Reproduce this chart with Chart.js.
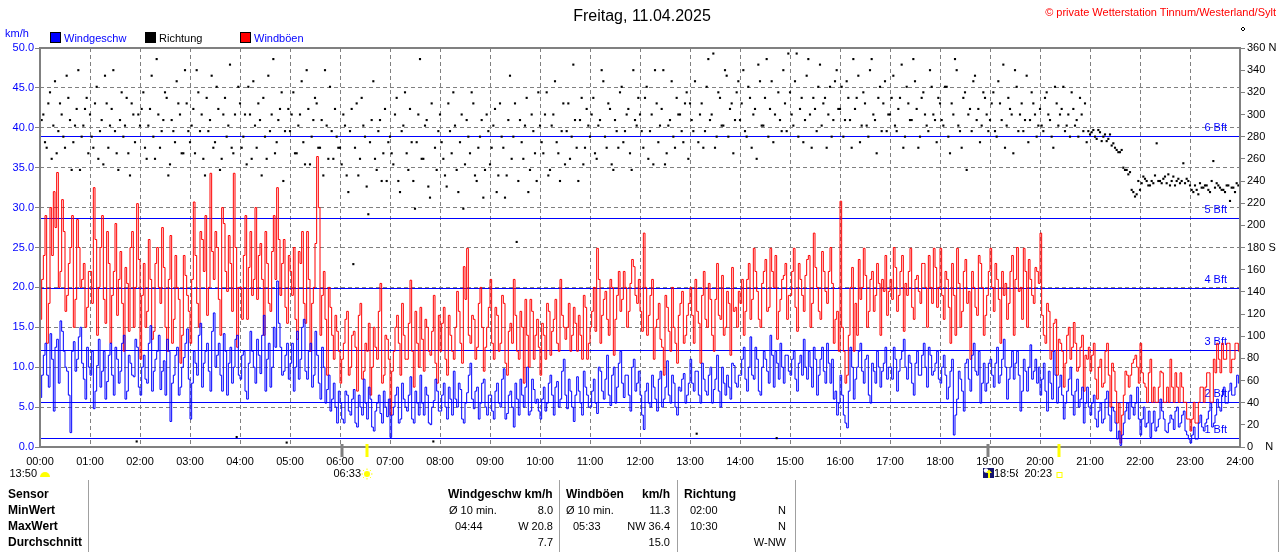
<!DOCTYPE html>
<html lang="de"><head><meta charset="utf-8"><title>Wind 11.04.2025</title>
<script src="https://cdn.jsdelivr.net/npm/chart.js@4.4.1/dist/chart.umd.min.js"></script>
<style>
html,body{margin:0;padding:0;background:#fff;}
#stage{position:relative;width:1280px;height:552px;overflow:hidden;font-family:"Liberation Sans",Arial,sans-serif;background:#fff;}
#c{position:absolute;left:0;top:0;}
.lbl{position:absolute;white-space:nowrap;line-height:1;}
.vl{position:absolute;width:1px;background:#a0a0a0;}
.sq{position:absolute;width:9px;height:9px;border:1px solid #000;}
</style></head><body><div id="stage"><canvas id="c" width="1280" height="552"></canvas></div>
<script>
// ---------------- DATA ----------------
const STEP_MIN = 4; // series A read at minute 0,4,8,... ; series B at minute 2,6,10,...
const hourLabels = ['00:00','01:00','02:00','03:00','04:00','05:00','06:00','07:00','08:00','09:00','10:00','11:00','12:00',
  '13:00','14:00','15:00','16:00','17:00','18:00','19:00','20:00','21:00','22:00','23:00','24:00'];
const dirTickLabels = {0:'0    N', 180:'180 S', 360:'360 N'};
const bftLimits = [1.08, 5.76, 12.24, 19.8, 28.8, 38.88];
const bftNames = ['1 Bft','2 Bft','3 Bft','4 Bft','5 Bft','6 Bft'];

const windSpeedA = [
 6.2,11.5,9.0,14.2,4.5,13.5,15.8,12.0,9.5,1.8,13.2,11.0,15.0,8.5,12.5,
 9.0,4.8,10.2,7.5,12.0,8.2,13.0,6.5,11.0,9.5,14.0,7.0,10.5,8.8,12.5,
 6.5,11.5,8.0,15.2,9.5,12.0,7.2,10.8,13.5,3.2,9.0,12.5,7.5,11.2,14.8,
 3.5,12.0,9.0,15.5,10.5,13.0,7.0,16.8,11.5,9.0,14.2,6.5,12.5,10.0,14.0,
 8.5,12.0,6.0,14.5,10.0,13.5,9.2,16.5,11.0,7.5,15.0,20.8,12.5,9.5,13.0,
 10.5,7.0,14.5,11.0,16.0,8.5,13.0,9.0,11.5,6.0,10.0,7.2,4.5,8.0,3.0,
 5.5,3.0,6.5,4.0,7.2,2.5,5.0,8.5,3.5,6.0,2.0,5.5,4.2,7.0,3.8,
 1.2,5.0,7.5,3.5,6.0,4.5,8.8,3.0,5.5,9.0,4.0,6.5,2.8,5.8,7.0,
 4.5,8.0,3.5,6.0,9.5,5.0,7.2,3.0,6.8,10.5,4.8,7.5,5.5,8.5,4.0,
 6.5,3.5,8.0,5.0,9.8,4.2,7.0,2.5,6.0,8.5,5.0,10.0,4.5,7.2,6.0,
 3.5,7.5,5.5,9.0,4.0,8.2,6.0,11.0,4.8,7.0,3.2,8.8,5.5,9.5,6.5,
 5.0,8.5,4.2,9.5,6.0,11.5,5.2,10.0,7.5,12.0,6.2,9.0,4.5,11.0,8.0,
 6.5,2.2,8.0,5.0,7.5,4.5,9.5,6.0,10.8,5.5,8.0,4.0,7.0,9.2,6.5,
 11.0,7.0,9.5,5.5,8.5,6.5,10.0,7.2,11.5,5.0,8.0,9.0,6.0,10.2,7.5,
 9.0,12.5,7.0,13.8,8.5,11.0,6.5,12.0,9.5,14.0,7.5,10.5,13.0,8.0,11.5,
 9.0,12.0,7.0,11.5,13.5,8.5,10.0,12.5,6.5,11.0,9.5,13.0,8.0,6.0,4.0,
 9.0,4.0,2.4,12.5,6.0,10.0,13.0,8.0,11.5,5.5,9.5,12.0,7.5,10.5,8.5,
 10.0,12.5,7.0,11.0,13.5,8.5,10.5,6.5,12.0,9.0,13.0,7.5,11.5,9.5,12.0,
 8.0,11.5,6.0,9.5,1.5,6.0,8.5,4.5,11.0,7.0,13.0,9.0,5.5,10.5,8.0,
 11.0,7.5,12.5,9.0,13.5,6.0,10.0,8.5,12.0,4.5,11.0,7.0,12.8,9.5,8.0,
 6.5,10.5,4.5,8.0,12.0,5.5,9.0,3.5,7.0,10.0,4.0,8.5,6.0,3.0,7.5,
 4.0,6.5,2.5,5.5,3.5,7.0,2.0,4.5,1.0,0.2,3.0,5.5,6.5,4.0,7.5,
 1.5,5.0,3.0,1.2,4.5,2.5,6.0,3.5,1.8,4.0,2.2,5.0,3.0,4.5,1.5,
 0.5,2.5,1.0,4.0,2.0,3.5,5.5,3.0,6.0,4.5,7.5,5.5,8.0,6.5,9.0,
 8.5];
const windSpeedB = [
 9.0,13.0,7.5,11.0,12.5,8.0,14.5,10.0,6.5,12.0,9.5,13.8,10.5,6.0,10.0,
 12.0,7.0,13.5,9.5,6.0,11.5,9.0,12.5,8.0,13.0,6.0,11.5,9.0,13.5,7.5,
 10.0,8.5,13.0,7.0,11.0,14.0,9.5,6.5,12.0,8.0,11.5,6.5,10.0,13.0,8.5,
 8.0,10.5,14.0,7.5,12.0,9.5,14.5,10.0,13.0,7.0,12.0,10.5,8.0,13.5,9.0,
 11.5,7.0,10.5,12.0,8.0,11.5,14.0,7.0,13.0,10.0,12.5,15.5,9.0,11.5,8.5,
 13.0,10.0,8.5,15.0,9.5,12.0,7.5,14.5,8.0,12.5,5.5,9.0,6.0,5.0,7.0,
 3.5,7.0,4.5,6.0,3.0,6.5,4.0,5.5,7.5,2.5,4.5,6.5,3.0,5.0,6.0,
 4.0,6.5,3.0,8.0,5.0,6.5,3.5,7.0,4.0,5.5,7.5,3.0,5.0,8.5,4.5,
 6.5,5.0,7.5,4.0,6.0,8.0,3.5,5.5,9.0,6.0,7.0,3.5,8.0,5.0,6.5,
 4.5,7.0,5.5,8.5,3.5,6.5,5.0,8.0,4.0,6.5,7.5,4.0,8.5,5.5,4.5,
 6.0,4.5,8.0,6.5,7.5,5.0,9.5,6.5,8.5,5.0,6.5,7.0,4.0,7.5,5.0,
 7.0,5.5,10.0,7.0,8.5,6.5,9.0,5.5,10.5,8.0,9.0,6.5,10.0,7.0,9.5,
 4.0,7.0,5.5,9.0,6.0,8.5,5.0,7.5,6.5,9.0,5.0,7.5,8.5,5.5,8.0,
 8.0,9.5,6.5,10.5,7.0,9.0,5.5,8.5,7.0,10.0,6.5,7.5,10.5,8.0,9.0,
 11.0,8.5,10.0,9.0,12.5,7.0,10.0,11.0,8.0,11.5,12.0,8.5,10.0,11.5,9.5,
 11.0,8.5,10.5,9.0,10.0,12.0,7.5,11.0,9.0,12.5,8.0,10.5,11.0,7.0,5.5,
 6.5,3.0,7.0,10.0,8.5,12.0,9.5,11.0,6.5,10.5,8.0,10.0,9.5,12.5,10.0,
 8.5,11.0,9.5,12.0,10.0,11.5,8.0,10.5,9.0,11.5,10.0,12.5,9.0,10.5,8.5,
 10.0,9.0,7.5,11.0,4.0,9.5,7.0,10.5,8.5,11.5,9.5,12.0,8.0,7.0,10.5,
 9.0,10.5,8.0,11.0,10.0,8.5,12.0,10.5,9.0,7.0,9.5,10.0,8.5,11.0,10.0,
 8.5,7.0,9.5,6.0,9.0,7.5,6.5,5.5,8.5,6.5,7.0,5.0,7.5,5.5,5.0,
 5.5,3.5,4.5,3.0,6.0,4.0,5.0,3.0,2.0,1.5,4.5,3.5,5.0,5.5,3.5,
 3.5,2.5,4.5,3.0,2.0,3.5,4.5,2.0,3.0,3.5,4.5,2.5,4.0,2.0,1.0,
 1.5,1.0,3.0,2.5,3.0,4.5,2.5,4.0,5.0,6.5,5.5,7.0,6.5,7.5,8.0];

const windGustA = [
 16.0,24.0,13.0,30.0,32.0,34.4,22.0,27.0,19.0,25.0,15.0,28.5,20.0,23.0,17.5,
 22.0,32.5,14.0,25.0,18.5,27.0,13.0,22.0,16.5,24.5,12.0,20.5,25.0,15.0,30.5,
 11.0,23.0,17.0,21.0,14.5,25.0,18.0,22.5,12.0,26.5,16.0,20.0,10.5,24.0,19.0,
 13.0,30.7,18.0,27.0,22.0,16.5,34.3,21.0,25.0,14.0,28.0,19.5,23.0,34.3,12.5,
 20.0,24.0,16.0,27.0,21.0,18.5,25.5,14.0,23.0,17.0,29.0,32.5,19.0,26.0,15.5,
 22.0,25.0,13.5,23.0,18.0,27.0,12.0,20.0,36.4,14.0,22.0,9.0,17.5,11.0,14.5,
 8.0,13.0,17.0,10.0,14.5,7.0,18.0,9.5,12.0,6.5,15.0,11.0,20.5,9.0,13.5,
 4.0,12.0,16.5,9.0,14.0,11.0,20.9,7.5,13.0,17.5,9.5,15.0,11.5,19.0,8.0,
 12.0,17.5,9.0,14.0,11.0,19.5,13.0,22.6,24.9,13.0,16.0,12.5,20.0,9.5,15.0,
 21.0,11.0,16.5,13.0,18.0,9.0,15.5,21.0,12.0,17.0,8.0,14.0,18.5,11.0,16.0,
 9.0,14.0,18.0,11.5,16.0,13.0,21.0,15.0,15.0,12.0,17.5,12.0,14.0,19.0,11.0,
 15.0,20.0,24.9,13.0,18.5,16.0,21.0,11.5,19.0,17.0,22.0,15.0,20.5,22.6,18.0,
 17.0,26.8,14.0,19.0,11.0,16.0,13.5,9.0,17.5,12.0,15.0,10.5,18.0,13.0,16.5,
 20.0,13.0,17.0,10.5,22.0,15.0,18.5,12.0,23.0,16.0,14.0,19.5,11.5,17.0,15.0,
 18.0,14.0,21.0,16.0,24.9,19.5,15.0,22.0,17.0,24.9,20.0,13.5,18.5,21.5,16.0,
 19.0,24.9,14.5,21.0,17.0,23.5,15.0,26.8,20.0,16.0,22.0,18.0,25.0,13.0,17.0,
 30.8,12.0,9.0,20.0,12.0,14.0,18.5,24.9,15.0,21.0,17.0,23.0,14.0,19.5,16.5,
 21.0,25.0,17.0,22.0,14.5,19.0,24.9,16.0,21.5,18.0,23.0,15.0,20.0,24.9,17.5,
 24.9,16.0,21.0,13.0,19.0,24.9,15.0,22.0,18.0,11.0,20.0,16.5,23.0,14.0,19.0,
 24.9,17.0,21.0,13.0,19.0,16.0,22.0,14.0,25.0,20.0,24.9,15.0,21.0,18.0,22.0,
 26.8,14.0,18.0,11.0,15.5,9.0,13.0,7.5,14.0,11.0,15.6,9.5,12.5,7.0,11.0,
 9.5,13.0,6.0,11.0,8.0,13.0,5.0,9.5,3.0,0.5,6.5,9.0,9.0,11.0,10.0,
 13.0,8.0,5.6,11.0,7.5,5.6,9.5,5.6,7.5,11.0,5.6,7.5,9.3,5.6,3.5,
 2.0,5.6,3.0,7.5,5.6,9.3,5.6,11.0,13.0,9.3,11.0,13.0,9.3,11.0,13.0,
 12.0];
const windGustB = [
 21.0,29.0,18.0,24.0,27.5,20.0,31.0,17.0,23.0,29.0,18.5,25.0,21.0,15.0,22.0,
 18.0,26.0,20.0,29.0,15.5,23.0,19.0,28.0,21.0,18.0,22.5,14.5,27.0,20.0,23.5,
 19.0,15.0,26.0,13.5,23.0,20.0,27.5,15.0,21.0,13.0,24.0,18.5,14.0,21.5,17.0,
 21.0,24.0,15.0,26.0,29.0,20.0,24.5,27.0,18.5,30.0,22.0,26.5,17.0,25.0,20.0,
 16.0,29.0,22.5,19.0,30.0,24.0,21.0,27.0,18.0,24.5,21.0,26.0,23.0,17.5,24.0,
 19.0,16.0,24.5,27.0,15.5,21.0,18.0,25.5,30.0,19.0,16.0,20.0,14.0,16.5,12.0,
 11.0,16.0,9.0,14.0,12.5,16.5,8.5,13.0,15.5,10.0,12.5,17.0,8.0,14.0,11.0,
 9.5,15.0,13.0,18.0,11.0,15.5,12.0,17.0,10.0,13.5,16.0,12.0,14.5,10.5,16.5,
 15.5,11.0,16.5,12.0,15.0,17.0,10.5,18.5,14.0,16.5,11.0,18.0,15.0,12.5,17.5,
 13.0,17.5,12.0,19.0,10.5,14.5,13.0,16.5,11.0,15.0,18.5,10.0,17.0,14.0,12.5,
 15.5,11.0,17.0,14.5,18.5,12.0,16.5,13.5,18.0,14.0,15.5,16.5,11.0,17.5,13.0,
 17.0,14.5,21.0,16.5,19.5,14.0,20.0,16.0,22.0,18.5,20.0,17.0,23.5,19.0,21.0,
 14.5,20.0,16.5,21.0,15.0,18.0,12.5,19.0,14.5,20.0,13.0,16.5,19.5,14.0,18.0,
 16.5,21.0,15.5,19.0,16.0,20.5,14.0,18.5,16.5,21.5,15.0,18.0,22.5,17.5,19.5,
 21.0,17.0,23.0,18.5,22.0,16.0,20.5,23.5,17.5,22.0,24.0,17.0,21.0,23.0,19.0,
 22.0,17.5,23.0,19.0,21.5,24.0,18.0,22.5,17.0,24.5,19.5,22.0,20.5,16.0,12.0,
 15.0,8.0,14.0,22.5,18.0,23.5,20.0,21.5,17.0,22.0,19.0,20.5,21.0,24.0,19.5,
 18.5,22.5,19.0,24.0,20.5,22.0,17.5,21.0,19.5,23.0,20.0,24.0,18.0,22.5,20.0,
 19.0,22.0,17.5,23.0,14.0,20.5,17.0,23.5,19.5,22.0,17.5,24.0,20.0,16.5,22.0,
 20.0,23.0,18.5,22.0,20.5,18.0,24.0,21.0,19.5,16.0,22.0,23.5,19.0,22.5,20.5,
 16.5,13.0,17.0,12.0,16.0,13.5,12.0,10.5,15.0,12.5,13.0,10.0,14.0,11.5,12.5,
 11.5,8.5,10.0,7.5,12.0,9.0,10.5,7.0,5.5,4.0,9.5,7.5,10.5,11.5,8.0,
 9.3,7.5,9.3,5.6,5.6,7.5,9.3,5.6,5.6,7.5,9.3,5.6,7.5,5.6,3.5,
 3.5,3.0,5.6,7.5,7.5,9.3,5.6,9.3,11.0,13.0,11.0,13.0,11.0,13.0,12.0];

const windDirA = [
 285,300,270,320,290,265,310,280,335,295,275,305,250,290,315,
 300,270,325,285,255,310,290,340,265,295,280,315,245,300,5,
 290,320,260,305,280,350,270,295,315,255,285,330,300,265,310,
 275,305,340,285,260,315,295,270,325,250,300,280,345,265,9,
 310,280,255,300,330,270,295,315,260,285,350,275,305,240,4,
 285,320,265,300,275,340,255,295,310,270,245,290,325,260,280,
 270,300,245,285,165,310,260,290,235,275,330,250,295,265,240,
 280,255,315,230,290,265,305,240,275,350,260,295,225,5,250,
 300,260,235,285,320,250,275,215,295,265,310,240,280,225,300,
 255,290,230,310,270,245,335,280,185,295,260,315,250,285,240,
 290,265,320,250,300,275,240,310,285,260,345,270,295,255,305,
 280,315,260,295,330,270,305,250,285,320,275,300,265,340,290,
 300,270,325,285,255,310,290,340,265,295,280,315,300,275,320,
 310,285,12,300,270,325,295,355,280,315,290,335,305,265,320,
 295,340,280,315,300,260,330,290,350,305,275,8,295,340,285,
 320,290,355,305,275,335,300,315,285,345,310,270,325,295,340,
 305,280,330,295,350,315,275,320,290,340,300,265,325,310,285,
 300,335,285,315,270,325,295,350,305,280,320,290,340,300,275,
 310,290,325,265,300,340,285,315,250,305,330,295,275,320,300,
 295,320,280,310,345,290,305,265,325,300,285,335,295,310,280,
 305,285,320,295,270,310,300,325,290,280,305,295,315,285,275,
 282,286,278,284,280,276,282,274,268,266,252,250,248,230,228,
 232,244,240,236,238,274,240,242,238,236,244,240,238,256,242,
 236,230,232,238,234,236,230,258,238,234,232,236,222,234,238,
 236];
const windDirB = [
 295,275,310,260,330,285,300,270,315,250,290,340,280,305,265,
 280,310,260,295,335,270,305,285,250,320,290,265,310,275,300,
 305,270,290,335,260,300,285,320,245,295,275,310,265,340,285,
 290,265,320,300,245,285,335,275,305,260,315,290,270,300,325,
 270,300,325,260,290,310,245,280,335,300,265,295,320,285,305,
 300,265,290,330,255,305,280,315,270,295,340,260,285,305,270,
 255,290,230,305,270,245,315,280,210,295,260,285,240,305,275,
 265,300,240,285,320,250,275,215,300,260,290,235,310,270,285,
 275,245,310,265,290,230,300,255,280,320,245,270,295,250,285,
 270,305,245,280,225,295,260,310,240,275,290,230,300,265,320,
 275,300,245,290,330,265,285,255,310,280,295,240,315,270,290,
 300,265,290,340,280,310,255,295,270,325,285,305,250,295,315,
 285,315,260,300,340,275,305,255,290,330,270,300,285,310,260,
 295,330,275,310,285,350,300,270,320,290,340,280,310,295,330,
 310,285,325,270,305,345,290,315,280,330,300,320,285,310,355,
 300,330,280,315,295,350,270,305,325,290,315,300,280,330,305,
 325,295,315,270,305,335,290,310,280,350,295,315,285,330,300,
 315,290,305,345,280,310,295,330,270,315,300,285,325,295,315,
 295,325,280,310,350,290,270,320,300,285,335,305,290,315,285,
 310,285,330,295,270,315,300,340,285,310,295,275,320,300,290,
 290,315,300,280,325,290,305,285,300,320,290,280,300,310,285,
 284,280,286,276,282,278,272,270,266,268,250,246,232,226,240,
 238,242,236,240,245,240,238,244,246,240,236,242,240,238,240,
 232,236,228,234,236,232,240,234,236,232,230,236,234,230,236];

const sunEvents = [{time:'06:33', label:'06:33', kind:'rise'}, {time:'20:23', label:'20:23', kind:'set'}];
const moonEvents = [{time:'06:02'}, {time:'18:58', label:'18:58'}];
const moonLabel = '13:50';

const rowLabels = ['Sensor','MinWert','MaxWert','Durchschnitt'];
const speedCol = {title:'Windgeschw km/h', unit:'', rows:[['Ø 10 min.','8.0'],['04:44','W 20.8'],['','7.7']]};
const gustCol  = {title:'Windböen', unit:'km/h', rows:[['Ø 10 min.','11.3'],['05:33','NW 36.4'],['','15.0']]};
const dirCol   = {title:'Richtung', unit:'', rows:[['02:00','N'],['10:30','N'],['','W-NW']]};

// ---------------- HTML TEXT ----------------
const stage = document.getElementById('stage');
function put(text, x, y, o = {}) {
  const d = document.createElement('div');
  d.className = 'lbl';
  d.textContent = text;
  d.style.left = x + 'px';
  d.style.top = y + 'px';
  d.style.fontSize = (o.size || 11) + 'px';
  d.style.color = o.color || '#000';
  if (o.bold) d.style.fontWeight = 'bold';
  const tx = o.align === 'right' ? '-100%' : o.align === 'center' ? '-50%' : '0';
  d.style.transform = `translate(${tx},-50%)`;
  if (o.width) { d.style.width = o.width + 'px'; d.style.overflow = 'hidden'; }
  stage.appendChild(d);
  return d;
}
function box(x, y, color) {
  const s = document.createElement('div');
  s.className = 'sq'; s.style.left = x + 'px'; s.style.top = y + 'px'; s.style.background = color;
  stage.appendChild(s);
}
function vline(x, y1, y2) {
  const v = document.createElement('div');
  v.className = 'vl'; v.style.left = x + 'px'; v.style.top = y1 + 'px'; v.style.height = (y2 - y1) + 'px';
  stage.appendChild(v);
}
const BLUE = '#0000ff';
put('Freitag, 11.04.2025', 642, 16, {align:'center', size:16});
put('© private Wetterstation Tinnum/Westerland/Sylt', 1276, 12, {align:'right', size:11, color:'#ff0000'});
put('km/h', 5, 33, {color:BLUE});
box(50, 32, BLUE);  put('Windgeschw', 64, 38, {color:BLUE});
box(145, 32, '#000'); put('Richtung', 159, 38);
box(240, 32, '#ff0000'); put('Windböen', 254, 38, {color:BLUE});

const rowY = [494, 510, 526, 542];
rowLabels.forEach((t, i) => put(t, 8, rowY[i], {bold:true, size:12}));
[88, 559, 677, 795, 1278].forEach(x => vline(x, 480, 552));
function column(col, titleX, leftXs, rightX) {
  put(col.title, titleX, rowY[0], {bold:true, size:12});
  if (col.unit) put(col.unit, rightX, rowY[0], {bold:true, size:12, align:'right'});
  col.rows.forEach((r, i) => {
    if (r[0]) put(r[0], leftXs[i], rowY[i + 1]);
    if (r[1]) put(r[1], rightX, rowY[i + 1], {align:'right'});
  });
}
column(speedCol, 448, [449, 455, 455], 553);
column(gustCol, 566, [566, 573, 573], 670);
column(dirCol, 684, [690, 690, 690], 786);

// ---------------- CHART ----------------
const toMin = s => { const [h, m] = s.split(':').map(Number); return h * 60 + m; };
const toXY = (arr, off = 0) => arr.map((v, i) => ({x: i * STEP_MIN + off, y: v}));
const merge = (a, b) => toXY(a).concat(toXY(b, STEP_MIN / 2)).sort((p, q) => p.x - q.x);

const bftPlugin = {
  id: 'bft',
  beforeDatasetsDraw(chart) {
    const {ctx, chartArea: a, scales: {y}} = chart;
    ctx.save();
    ctx.fillStyle = BLUE;
    ctx.font = '11px "Liberation Sans", Arial, sans-serif';
    ctx.textAlign = 'right'; ctx.textBaseline = 'middle';
    bftLimits.forEach((v, i) => {
      // snap to an even pixel row so the thin blue rule keeps its colour in the photo
      const py = 2 * Math.round(y.getPixelForValue(v) / 2);
      ctx.fillRect(a.left, py, a.right - a.left, 1);
      ctx.fillText(bftNames[i], a.right - 13, py - 8);
    });
    ctx.restore();
  }
};

const framePlugin = {
  id: 'frame',
  afterDraw(chart) {
    const {ctx, chartArea: a, scales: {x}} = chart;
    ctx.save();
    ctx.strokeStyle = '#808080'; ctx.lineWidth = 2;
    ctx.strokeRect(a.left, a.top, a.right - a.left, a.bottom - a.top);
    moonEvents.forEach(ev => {
      const px = Math.round(x.getPixelForValue(toMin(ev.time)));
      ctx.fillStyle = '#808080'; ctx.fillRect(px - 1.5, a.bottom - 3, 3, 13);
    });
    sunEvents.forEach(ev => {
      const px = Math.round(x.getPixelForValue(toMin(ev.time)));
      ctx.fillStyle = '#ffff00'; ctx.fillRect(px - 1.5, a.bottom - 3, 3, 13);
      if (ev.kind === 'rise') {
        ctx.beginPath(); ctx.arc(px, 474, 3, 0, Math.PI * 2); ctx.fill();
        ctx.strokeStyle = '#ffff00'; ctx.lineWidth = 1;
        for (let k = 0; k < 8; k++) {
          const an = k * Math.PI / 4;
          ctx.beginPath(); ctx.moveTo(px + Math.cos(an) * 4, 474 + Math.sin(an) * 4);
          ctx.lineTo(px + Math.cos(an) * 5.5, 474 + Math.sin(an) * 5.5); ctx.stroke();
        }
      } else {
        ctx.strokeStyle = '#ffff00'; ctx.lineWidth = 1;
        ctx.strokeRect(px - 2, 472.5, 5, 5);
      }
    });
    const mr = Math.round(x.getPixelForValue(toMin(moonEvents[1].time)));
    ctx.fillStyle = '#14146e'; ctx.fillRect(mr - 5, 468, 11, 10);
    ctx.fillStyle = '#ffffff'; ctx.beginPath(); ctx.arc(mr - 2, 470.5, 2.2, 0, Math.PI * 2); ctx.fill();
    ctx.fillStyle = '#ffff00'; ctx.fillRect(mr, 472, 2, 6);
    ctx.beginPath(); ctx.moveTo(mr - 2, 473); ctx.lineTo(mr + 1, 469.5); ctx.lineTo(mr + 4, 473); ctx.fill();
    ctx.fillStyle = '#ffff00';
    ctx.beginPath(); ctx.arc(a.left + 5, 477, 5, Math.PI, 0); ctx.fill();
    ctx.strokeStyle = '#000'; ctx.lineWidth = 1;
    ctx.beginPath(); ctx.moveTo(1243, 27); ctx.lineTo(1245, 29); ctx.lineTo(1243, 31); ctx.lineTo(1241, 29); ctx.closePath(); ctx.stroke();
    ctx.restore();
  }
};

Chart.defaults.font.family = '"Liberation Sans", Arial, sans-serif';
Chart.defaults.font.size = 11;

new Chart(document.getElementById('c'), {
  type: 'line',
  data: {
    datasets: [
      {label:'Richtung', data: merge(windDirA, windDirB), yAxisID:'y2', showLine:false, pointStyle:'rect',
       pointRadius:1.5, pointBackgroundColor:'#000', pointBorderWidth:0, order:0},
      {label:'Windgeschw', data: merge(windSpeedA, windSpeedB), yAxisID:'y', borderColor:BLUE, borderWidth:1,
       pointRadius:0, stepped:true, order:1},
      {label:'Windböen', data: merge(windGustA, windGustB), yAxisID:'y', borderColor:'#ff0000', borderWidth:1,
       pointRadius:0, stepped:true, order:2}
    ]
  },
  options: {
    responsive:false, animation:false, events:[],
    layout:{padding:{top:48, bottom:80, left:0, right:0}},
    plugins:{legend:{display:false}, tooltip:{enabled:false}},
    scales:{
      x:{type:'linear', min:0, max:1440,
         afterBuildTicks: s => { s.ticks = hourLabels.map((_, i) => ({value: i * 60})); },
         ticks:{autoSkip:false, maxRotation:0, minRotation:0, padding:8, color:'#000',
                callback: v => hourLabels[Math.round(v / 60)]},
         grid:{color:'#808080', lineWidth:1, drawTicks:false},
         border:{display:false, dash:[4,3]},
         afterFit: s => { s.height = 25; }},
      y:{position:'left', min:0, max:50,
         ticks:{stepSize:5, color:BLUE, padding:1, callback: v => Number(v).toFixed(1)},
         grid:{color:'#808080', lineWidth:1, tickLength:5, tickColor:'#808080', tickBorderDash:[]},
         border:{display:false, dash:[4,3]},
         afterFit: s => { s.width = 40; }},
      y2:{position:'right', min:0, max:360,
         ticks:{stepSize:20, color:'#000', padding:2, autoSkip:false,
                callback: v => dirTickLabels[v] !== undefined ? dirTickLabels[v] : String(v)},
         grid:{drawOnChartArea:false, tickLength:5, tickColor:'#808080'},
         border:{display:false},
         afterFit: s => { s.width = 40; }}
    }
  },
  plugins:[bftPlugin, framePlugin]
});

put(moonLabel, 37, 473, {align:'right'});
put(sunEvents[0].label, 361, 473, {align:'right'});
put(moonEvents[1].label, 994, 473, {width:24});
put(sunEvents[1].label, 1052, 473, {align:'right'});
</script></body></html>
